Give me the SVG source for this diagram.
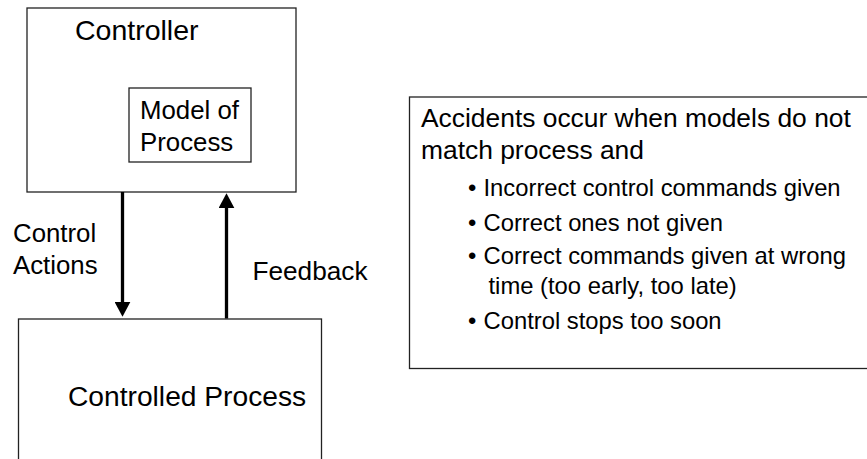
<svg xmlns="http://www.w3.org/2000/svg" width="867" height="459" viewBox="0 0 867 459">
<defs>
<style>
.box{fill:#fff;stroke:#222;stroke-width:1.3}
text{font-family:"Liberation Sans",Arial,sans-serif;fill:#000}
.conn{stroke:#000;stroke-width:3.3;fill:none}
</style>
<marker id="ah" markerUnits="userSpaceOnUse" markerWidth="16" markerHeight="16" viewBox="0 0 16 16" refX="1" refY="8" orient="auto">
<path d="M0,0 L15,8 L0,16 Z" fill="#000"/>
</marker>
</defs>
<rect width="867" height="459" fill="#fff"/>
<g id="controller">
<rect class="box" x="27" y="8" width="269" height="184"/>
<text x="75" y="40" font-size="28.5">Controller</text>
</g>
<g id="model">
<rect class="box" x="129" y="88" width="122" height="74"/>
<text x="140" y="119" font-size="25.8">Model of</text>
<text x="140" y="151" font-size="25.8">Process</text>
</g>
<g id="process">
<rect class="box" x="18.5" y="319" width="303" height="160"/>
<text x="68" y="406" font-size="28.2">Controlled Process</text>
</g>
<g id="note">
<rect class="box" x="409.5" y="97" width="470" height="271.5"/>
<text x="421" y="127" font-size="26.4">Accidents occur when models do not</text>
<text x="421" y="159" font-size="26.4">match process and</text>
<g font-size="23.8">
<text x="468" y="196">•</text><text x="483.5" y="196">Incorrect control commands given</text>
<text x="468" y="231">•</text><text x="483.5" y="231">Correct ones not given</text>
<text x="468" y="264">•</text><text x="483.5" y="264">Correct commands given at wrong</text>
<text x="488.5" y="293.5">time (too early, too late)</text>
<text x="468" y="328.5">•</text><text x="483.5" y="328.5">Control stops too soon</text>
</g>
</g>
<g id="connectors">
<line class="conn" x1="122.5" y1="192" x2="122.5" y2="302.7" marker-end="url(#ah)"/>
<line class="conn" x1="226.5" y1="318.5" x2="226.5" y2="207.3" marker-end="url(#ah)"/>
<text x="13" y="241.5" font-size="25.8">Control</text>
<text x="13" y="273.5" font-size="25.8">Actions</text>
<text x="252.5" y="279.5" font-size="26.2">Feedback</text>
</g>
</svg>
